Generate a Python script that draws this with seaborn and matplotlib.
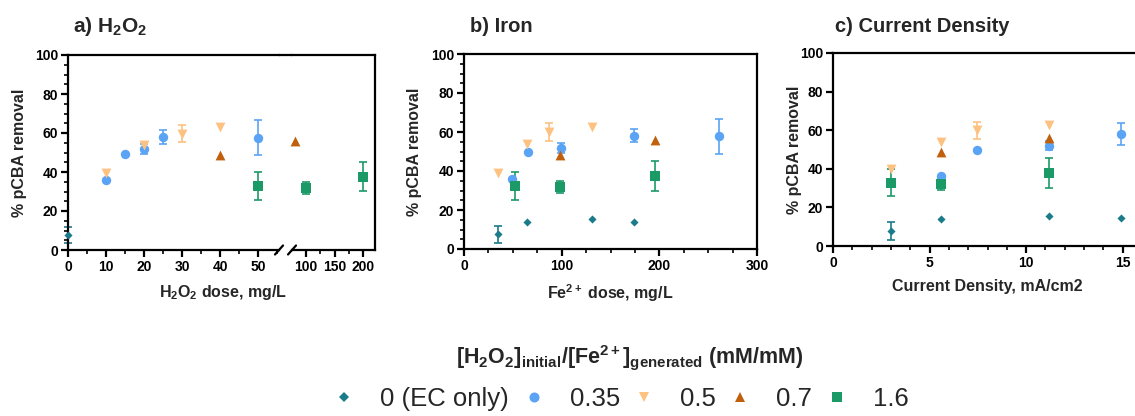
import matplotlib
matplotlib.use("Agg")
import matplotlib.pyplot as plt
import seaborn as sns
import pandas as pd
from matplotlib.lines import Line2D
from matplotlib.ticker import MultipleLocator, FixedLocator

# legend groups: [H2O2]initial/[Fe2+]generated ratio
ratios = ["0 (EC only)", "0.35", "0.5", "0.7", "1.6"]
colors = ["#1a7b8a", "#5ba3f5", "#fdc281", "#c0600c", "#1b9a68"]
markers = ["D", "o", "v", "^", "s"]
sizes = [17, 46, 50, 50, 42]

# a) H2O2 dose (mg/L)
a_ratio = ["0 (EC only)", "0.35", "0.35", "0.35", "0.35", "0.35",
           "0.5", "0.5", "0.5", "0.5", "0.7", "0.7", "1.6", "1.6", "1.6"]
a_dose = [0, 10, 15, 20, 25, 50, 10, 20, 30, 40, 40, 80, 50, 100, 200]
a_removal = [7.7, 35.9, 49.4, 51.8, 57.8, 57.5, 39.4, 53.9, 59.7, 63.0,
             48.5, 55.8, 32.8, 31.7, 37.6]
a_err = [4.3, 0, 0, 2.5, 3.5, 9.0, 0, 0, 4.5, 0, 0, 0, 7.1, 3.2, 7.5]

# b) Fe2+ dose (mg/L)
b_ratio = ["0 (EC only)"] * 4 + ["0.35"] * 5 + ["0.5"] * 4 + ["0.7"] * 2 + ["1.6"] * 3
b_dose = [35, 65, 131, 174, 49, 66, 99, 174, 261, 35, 65, 87, 131, 98, 196, 52, 98, 196]
b_removal = [7.5, 13.8, 15.2, 14.0, 35.8, 49.7, 51.8, 58.2, 57.7, 39.0, 53.9, 60.0,
             62.8, 48.3, 55.7, 32.5, 31.7, 37.5]
b_err = [4.5, 0, 0, 0, 0, 0, 2.5, 3.5, 9.0, 0, 0, 4.5, 0, 0, 0, 7.2, 3.0, 7.5]

# c) current density (mA/cm2)
c_ratio = ["0 (EC only)"] * 4 + ["0.35"] * 4 + ["0.5"] * 4 + ["0.7"] * 2 + ["1.6"] * 3
c_density = [3.0, 5.6, 11.2, 14.9, 5.6, 7.45, 11.2, 14.9, 3.0, 5.6, 7.45, 11.2,
             5.6, 11.2, 3.0, 5.6, 11.2]
c_removal = [7.7, 14.1, 15.7, 14.5, 36.2, 49.8, 52.0, 57.9, 39.7, 54.0, 60.0, 62.9,
             48.8, 56.2, 32.9, 31.9, 37.8]
c_err = [4.5, 0, 0, 0, 0, 0, 2.3, 5.6, 0, 0, 4.4, 0, 0, 0, 7.0, 3.0, 7.6]

sns.set_theme(style="ticks")
plt.rcParams["font.family"] = ["Liberation Sans", "DejaVu Sans"]
plt.rcParams["font.weight"] = "bold"
plt.rcParams["mathtext.fontset"] = "custom"
plt.rcParams["mathtext.rm"] = "Liberation Sans"
plt.rcParams["mathtext.bf"] = "Liberation Sans:bold"
plt.rcParams["mathtext.it"] = "Liberation Sans:italic"
plt.rcParams["mathtext.default"] = "bf"

W, H = 1135, 416
fig = plt.figure(figsize=(W / 100, H / 100), dpi=100)


def px_axes(left, right, top, bottom):
    return fig.add_axes([left / W, 1 - bottom / H, (right - left) / W, (bottom - top) / H])


def style_axes(ax):
    for s in ax.spines.values():
        s.set_linewidth(1.6)
        s.set_color("black")
    ax.tick_params(which="major", direction="out", length=5, width=1.6,
                   labelsize=10, pad=2, colors="black")
    ax.tick_params(which="minor", direction="out", length=3, width=1.4)
    ax.set_ylim(0, 100)
    ax.yaxis.set_major_locator(MultipleLocator(20))
    for lab in ax.get_xticklabels() + ax.get_yticklabels():
        lab.set_fontweight("bold")


def draw(ax, df, xcol):
    for r, c, m, s in zip(ratios, colors, markers, sizes):
        sub = df[df["ratio"] == r]
        if sub.empty:
            continue
        e = sub[sub["err"] > 0]
        if not e.empty:
            ax.errorbar(e[xcol], e["removal"], yerr=e["err"], fmt="none", ecolor=c,
                        elinewidth=1.2, capsize=3, capthick=1.2, zorder=2, clip_on=False)
        sns.scatterplot(data=sub, x=xcol, y="removal", color=c, marker=m, s=s,
                        linewidth=0, ax=ax, zorder=3, clip_on=False, legend=False)


df_a = pd.DataFrame({"ratio": a_ratio, "dose": a_dose, "removal": a_removal, "err": a_err})
df_b = pd.DataFrame({"ratio": b_ratio, "dose": b_dose, "removal": b_removal, "err": b_err})
df_c = pd.DataFrame({"ratio": c_ratio, "density": c_density, "removal": c_removal, "err": c_err})

# panel a: broken x axis
ax1 = px_axes(68, 279, 55, 250)
ax1r = px_axes(292, 375, 55, 250)
draw(ax1, df_a[df_a["dose"] <= 55], "dose")
draw(ax1r, df_a[df_a["dose"] > 55], "dose")
ax1.set_xlim(0, 55.5)
ax1r.set_xlim(75.4, 221)
for ax in (ax1, ax1r):
    style_axes(ax)
ax1.spines["right"].set_visible(False)
ax1r.spines["left"].set_visible(False)
ax1r.tick_params(axis="y", which="both", left=False, labelleft=False)
ax1.xaxis.set_major_locator(MultipleLocator(10))
ax1.xaxis.set_minor_locator(MultipleLocator(5))
ax1.yaxis.set_minor_locator(MultipleLocator(5))
ax1r.xaxis.set_major_locator(FixedLocator([100, 150, 200]))
ax1r.xaxis.set_minor_locator(FixedLocator([125, 175]))
ax1r.set_ylabel("")
ax1r.set_xlabel("")
fig.add_artist(Line2D([279 / W, 292 / W], [1 - 55 / H, 1 - 55 / H], color="black", lw=1.6))
for xc in (279, 292):
    fig.add_artist(Line2D([(xc - 4) / W, (xc + 4) / W], [1 - 254.5 / H, 1 - 245.5 / H],
                          color="black", lw=1.6))
ax1.set_xlabel("H$_2$O$_2$ dose, mg/L", fontsize=11.5, fontweight="bold")
ax1.xaxis.set_label_coords((223 - 68) / 211, -0.17)
ax1.set_ylabel("% pCBA removal", fontsize=11.5, fontweight="bold")
ax1.yaxis.set_label_coords(-0.135 * 307 / 211, 0.5)

# panel b
ax2 = px_axes(464, 757, 54, 249)
draw(ax2, df_b, "dose")
style_axes(ax2)
ax2.set_xlim(0, 300)
ax2.xaxis.set_major_locator(MultipleLocator(100))
ax2.xaxis.set_minor_locator(MultipleLocator(25))
ax2.yaxis.set_minor_locator(MultipleLocator(5))
ax2.set_xlabel("Fe$^{2+}$ dose, mg/L", fontsize=11.5, fontweight="bold")
ax2.xaxis.set_label_coords(0.5, -0.17)
ax2.set_ylabel("% pCBA removal", fontsize=11.5, fontweight="bold")
ax2.yaxis.set_label_coords(-0.145, 0.5)

# panel c
ax3 = px_axes(833, 1142, 53, 246)
draw(ax3, df_c, "density")
style_axes(ax3)
ax3.set_xlim(0, 16)
ax3.xaxis.set_major_locator(MultipleLocator(5))
ax3.xaxis.set_minor_locator(MultipleLocator(1))
ax3.set_xlabel("Current Density, mA/cm2", fontsize=11.5, fontweight="bold")
ax3.xaxis.set_label_coords(0.5, -0.17)
ax3.set_ylabel("% pCBA removal", fontsize=11.5, fontweight="bold")
ax3.yaxis.set_label_coords(-0.10, 0.5)

# panel titles
fig.text(73 / W, 1 - 27 / H, "a) H$_2$O$_2$", fontsize=15, fontweight="bold", va="center")
fig.text(470 / W, 1 - 27 / H, "b) Iron", fontsize=14.5, fontweight="bold", va="center")
fig.text(835 / W, 1 - 27 / H, "c) Current Density", fontsize=14.5, fontweight="bold", va="center")

# shared legend
fig.text(630 / W, 1 - 357 / H,
         r"$[H_2O_2]_{initial}/[Fe^{2+}]_{generated}$ (mM/mM)",
         fontsize=15.5, fontweight="bold", ha="center", va="center")
leg_ms = [5.0, 7.2, 7.5, 7.5, 6.5]
handles = [Line2D([], [], marker=m, color=c, linestyle="none", markersize=ms, markeredgewidth=0)
           for m, c, ms in zip(markers, colors, leg_ms)]
leg = fig.legend(handles, ratios, loc="center", bbox_to_anchor=(620 / W, 1 - 399 / H),
                 ncol=5, frameon=False, handlelength=1.0, handletextpad=0.9,
                 columnspacing=0.45, prop={"size": 18.5, "weight": "normal"})

fig.savefig("out.png", dpi=100)
